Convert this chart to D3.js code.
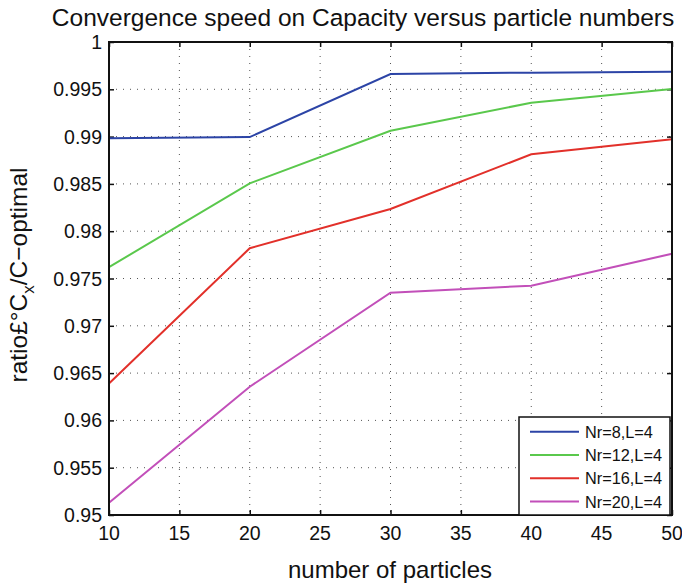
<!DOCTYPE html>
<html>
<head>
<meta charset="utf-8">
<script src="https://cdn.jsdelivr.net/npm/d3@7"></script>
<style>
  body { margin: 0; background: #fff; }
  text { font-family: "Liberation Sans", Arial, sans-serif; fill: #111; }
</style>
</head>
<body>
<script>
const particles = [10, 20, 30, 40, 50];
const seriesNames = ["Nr=8,L=4", "Nr=12,L=4", "Nr=16,L=4", "Nr=20,L=4"];
const nr8 = [0.98982, 0.98995, 0.99662, 0.99676, 0.99686];
const nr12 = [0.9762, 0.98506, 0.99062, 0.99358, 0.99503];
const nr16 = [0.9639, 0.9782, 0.98235, 0.98813, 0.98971];
const nr20 = [0.9513, 0.96356, 0.9735, 0.97424, 0.97762];
const colors = ["#2c44a6", "#5ac84c", "#e2302a", "#c24fb9"];
const xTicks = [10, 15, 20, 25, 30, 35, 40, 45, 50];
const yTicks = [0.95, 0.955, 0.96, 0.965, 0.97, 0.975, 0.98, 0.985, 0.99, 0.995, 1];

const series = [nr8, nr12, nr16, nr20];

const plotL = 109, plotR = 672, plotT = 42, plotB = 515;

const svg = d3.select("body")
              .append("svg")
              .attr("width", 682)
              .attr("height", 584);

const x = d3.scaleLinear().domain([10, 50]).range([plotL, plotR]);
const y = d3.scaleLinear().domain([0.95, 1]).range([plotB, plotT]);

// dotted grid
svg.append("g")
    .selectAll("line")
    .data(xTicks.slice(1, -1))
    .join("line")
    .attr("x1", d => x(d)).attr("x2", d => x(d))
    .attr("y1", plotT).attr("y2", plotB)
    .attr("stroke", "#555")
    .attr("stroke-width", 1)
    .attr("stroke-dasharray", "1,6");

svg.append("g")
    .selectAll("line")
    .data(yTicks.slice(1, -1))
    .join("line")
    .attr("x1", plotL).attr("x2", plotR)
    .attr("y1", d => y(d)).attr("y2", d => y(d))
    .attr("stroke", "#555")
    .attr("stroke-width", 1)
    .attr("stroke-dasharray", "1,6");

// axes with inward ticks
const fmt = d => String(+d.toFixed(3));

svg.append("g")
    .attr("transform", `translate(0,${plotB})`)
    .call(d3.axisTop(x).tickValues(xTicks).tickSize(5).tickFormat(""))
    .call(g => g.select(".domain").remove());

svg.append("g")
    .attr("transform", `translate(0,${plotT})`)
    .call(d3.axisBottom(x).tickValues(xTicks).tickSize(5).tickFormat(""))
    .call(g => g.select(".domain").remove());

svg.append("g")
    .attr("transform", `translate(${plotL},0)`)
    .call(d3.axisRight(y).tickValues(yTicks).tickSize(5).tickFormat(""))
    .call(g => g.select(".domain").remove());

svg.append("g")
    .attr("transform", `translate(${plotR},0)`)
    .call(d3.axisLeft(y).tickValues(yTicks).tickSize(5).tickFormat(""))
    .call(g => g.select(".domain").remove());

svg.selectAll(".tick line").attr("stroke", "#111").attr("stroke-width", 1.5);

// tick labels
svg.append("g")
    .selectAll("text")
    .data(xTicks)
    .join("text")
    .attr("x", d => x(d))
    .attr("y", plotB + 25)
    .attr("text-anchor", "middle")
    .style("font-size", "19.5px")
    .text(d => d);

svg.append("g")
    .selectAll("text")
    .data(yTicks)
    .join("text")
    .attr("x", plotL - 7)
    .attr("y", d => y(d) + 7)
    .attr("text-anchor", "end")
    .style("font-size", "19.5px")
    .text(fmt);

// lines
const line = d3.line()
    .x((d, i) => x(particles[i]))
    .y(d => y(d));

svg.append("g")
    .selectAll("path")
    .data(series)
    .join("path")
    .attr("d", line)
    .attr("fill", "none")
    .attr("stroke", (d, i) => colors[i])
    .attr("stroke-width", 2);

// box
svg.append("rect")
    .attr("x", plotL)
    .attr("y", plotT)
    .attr("width", plotR - plotL)
    .attr("height", plotB - plotT)
    .style("fill", "none")
    .style("stroke", "#111")
    .style("stroke-width", 2);

// legend
const legend = svg.append("g").attr("transform", "translate(519,417)");
legend.append("rect")
    .attr("width", 151)
    .attr("height", 98)
    .style("fill", "#fff")
    .style("stroke", "#111")
    .style("stroke-width", 1.5);

const rows = legend.selectAll("g")
    .data(seriesNames)
    .join("g")
    .attr("transform", (d, i) => `translate(0,${14.7 + i * 23.3})`);

rows.append("line")
    .attr("x1", 11).attr("x2", 60)
    .attr("y1", 0).attr("y2", 0)
    .attr("stroke", (d, i) => colors[i])
    .attr("stroke-width", 2);

rows.append("text")
    .attr("x", 66)
    .attr("y", 6)
    .style("font-size", "16.3px")
    .text(d => d);

// title and labels
svg.append("text")
    .attr("x", 363)
    .attr("y", 26)
    .attr("text-anchor", "middle")
    .style("font-size", "24.5px")
    .text("Convergence speed on Capacity versus particle numbers");

svg.append("text")
    .attr("x", 390)
    .attr("y", 578)
    .attr("text-anchor", "middle")
    .style("font-size", "24px")
    .text("number of particles");

const ylab = svg.append("text")
    .attr("transform", "translate(27,275) rotate(-90)")
    .attr("text-anchor", "middle")
    .style("font-size", "24.5px");
ylab.append("tspan").text("ratio£°C");
ylab.append("tspan").attr("dy", 7).style("font-size", "17px").text("x");
ylab.append("tspan").attr("dy", -7).text("/C\u2212optimal");
</script>
</body>
</html>
